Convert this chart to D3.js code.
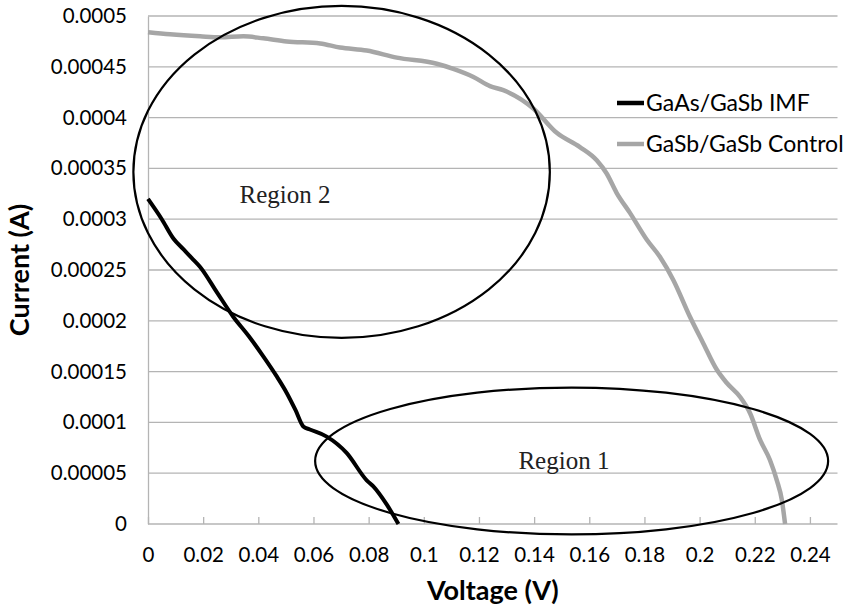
<!doctype html>
<html lang="en">
<head>
  <meta charset="utf-8">
  <title>IV curves</title>
  <script src="https://d3js.org/d3.v7.min.js"></script>
  <style>
  body { margin: 0; background: #fff; }
  .tick-label { font-family: Lato, "Open Sans", sans-serif; font-size: 20.5px; fill: #000; }
  .axis-title { font-family: Lato, "Open Sans", sans-serif; font-size: 27px; font-weight: bold; fill: #000; }
  .legend-text { font-family: Lato, "Open Sans", sans-serif; font-size: 23px; fill: #000; }
  .region-text { font-family: "Liberation Serif", "DejaVu Serif", serif; font-size: 25px; fill: #222; }
  </style>
</head>
<body>
<script>
  // voltage (V) and current (A)
  var imfVoltage = [0, 0.0050, 0.0092, 0.0130, 0.0158, 0.0189, 0.0250, 0.0309, 0.0365, 0.0418, 0.0465, 0.0503, 0.0535, 0.0563, 0.0587, 0.0648, 0.0720, 0.0793, 0.0817, 0.0866, 0.0908];
  var imfCurrent = [0.000320, 0.000300, 0.000281, 0.000270, 0.000262, 0.000253, 0.000228, 0.000204, 0.000185, 0.000165, 0.000146, 0.000129, 0.000112, 0.000096, 0.000093, 0.000086, 0.000070, 0.000043, 0.000037, 0.000019, 0];

  var ctlVoltage = [0, 0.0080, 0.0189, 0.0261, 0.0346, 0.0418, 0.0503, 0.0624, 0.0696, 0.0793, 0.0902, 0.1047, 0.1107, 0.1180, 0.1240, 0.1288, 0.1397, 0.1482, 0.1566, 0.1627, 0.1663, 0.1699, 0.1748, 0.1808, 0.1856, 0.1905, 0.1965, 0.2013, 0.2062, 0.2098, 0.2147, 0.2183, 0.2219, 0.2255, 0.2280, 0.2298, 0.2310];
  var ctlCurrent = [0.000484, 0.000482, 0.000480, 0.000479, 0.000480, 0.000478, 0.000475, 0.000473, 0.000469, 0.000466, 0.000459, 0.000453, 0.000448, 0.000440, 0.000431, 0.000427, 0.000409, 0.000385, 0.000371, 0.000358, 0.000345, 0.000326, 0.000306, 0.000280, 0.000263, 0.000240, 0.000204, 0.000178, 0.000152, 0.000139, 0.000125, 0.000109, 0.000083, 0.000063, 0.000043, 0.000024, 0];

  var seriesNames = ["GaAs/GaSb IMF", "GaSb/GaSb Control"];
  var seriesColors = ["#000000", "#a6a6a6"];

  var xTicks = [0, 0.02, 0.04, 0.06, 0.08, 0.1, 0.12, 0.14, 0.16, 0.18, 0.2, 0.22, 0.24];
  var xTickLabels = ["0", "0.02", "0.04", "0.06", "0.08", "0.1", "0.12", "0.14", "0.16", "0.18", "0.2", "0.22", "0.24"];
  var yTicks = [0, 0.00005, 0.0001, 0.00015, 0.0002, 0.00025, 0.0003, 0.00035, 0.0004, 0.00045, 0.0005];
  var yTickLabels = ["0", "0.00005", "0.0001", "0.00015", "0.0002", "0.00025", "0.0003", "0.00035", "0.0004", "0.00045", "0.0005"];

  // region annotations: centre and radii in data units
  var regionNames = ["Region 2", "Region 1"];
  var regionCx = [0.0702, 0.1536];
  var regionCy = [0.0003465, 0.0000620];
  var regionRx = [0.0755, 0.0930];
  var regionRy = [0.0001634, 0.0000723];
  var regionTextX = [0.0497, 0.1508];
  var regionTextY = [0.000316, 0.0000541];

  var W = 843, H = 612;
  var margin = {top: 16, left: 148};
  var plotW = 689.5, plotH = 508;

  var x = d3.scaleLinear().domain([0, 0.25]).range([margin.left, margin.left + plotW]);
  var y = d3.scaleLinear().domain([0, 0.0005]).range([margin.top + plotH, margin.top]);

  var svg = d3.select("body").append("svg")
      .attr("width", W)
      .attr("height", H);

  // horizontal gridlines
  svg.append("g").selectAll("line")
      .data(yTicks.slice(1))
    .enter().append("line")
      .attr("x1", x(0)).attr("x2", x(0.25))
      .attr("y1", function(d) { return y(d); })
      .attr("y2", function(d) { return y(d); })
      .attr("stroke", "#b4b4b4")
      .attr("stroke-width", 1.3);

  // y axis (labels only, plus the plain vertical line)
  var yAxis = svg.append("g")
      .attr("transform", "translate(" + x(0) + ",0)")
      .call(d3.axisLeft(y).tickValues(yTicks).tickSize(0).tickPadding(21)
        .tickFormat(function(d, i) { return yTickLabels[i]; }));
  yAxis.select(".domain").attr("stroke", "#b4b4b4").attr("stroke-width", 1.3);
  yAxis.selectAll("text").attr("class", "tick-label").attr("fill", null);

  // x axis with inside tick marks
  var xAxis = svg.append("g")
      .attr("transform", "translate(0," + y(0) + ")")
      .call(d3.axisBottom(x).tickValues(xTicks).tickSizeInner(-7).tickSizeOuter(0).tickPadding(38)
        .tickFormat(function(d, i) { return xTickLabels[i]; }));
  xAxis.select(".domain").attr("stroke", "#b4b4b4").attr("stroke-width", 1.3)
      .attr("d", "M" + x(0) + ",0H" + x(0.25));
  xAxis.selectAll(".tick line").attr("stroke", "#b4b4b4").attr("stroke-width", 1.3);
  xAxis.selectAll("text").attr("class", "tick-label").attr("fill", null).attr("dy", "0");

  // curves
  var line = d3.line()
      .x(function(d) { return x(d[0]); })
      .y(function(d) { return y(d[1]); })
      .curve(d3.curveMonotoneX);

  var ctlData = d3.zip(ctlVoltage, ctlCurrent);
  var imfData = d3.zip(imfVoltage, imfCurrent);

  svg.append("path")
      .datum(ctlData)
      .attr("d", line)
      .attr("fill", "none")
      .attr("stroke", seriesColors[1])
      .attr("stroke-width", 4.5)
      .attr("stroke-linejoin", "round");

  svg.append("path")
      .datum(imfData)
      .attr("d", line)
      .attr("fill", "none")
      .attr("stroke", seriesColors[0])
      .attr("stroke-width", 4)
      .attr("stroke-linejoin", "round");

  // region ellipses
  regionNames.forEach(function(name, i) {
    svg.append("ellipse")
        .attr("cx", x(regionCx[i]))
        .attr("cy", y(regionCy[i]))
        .attr("rx", x(regionRx[i]) - x(0))
        .attr("ry", y(0) - y(regionRy[i]))
        .attr("fill", "none")
        .attr("stroke", "#000")
        .attr("stroke-width", 2.2);
    svg.append("text")
        .attr("class", "region-text")
        .attr("x", x(regionTextX[i]))
        .attr("y", y(regionTextY[i]))
        .attr("text-anchor", "middle")
        .text(name);
  });

  // legend
  var legend = svg.append("g").attr("transform", "translate(617,103)");
  seriesNames.forEach(function(name, i) {
    var g = legend.append("g").attr("transform", "translate(0," + (i * 41) + ")");
    g.append("line")
        .attr("x1", 0).attr("x2", 27)
        .attr("stroke", seriesColors[i])
        .attr("stroke-width", 4.5);
    g.append("text")
        .attr("class", "legend-text")
        .attr("x", 29)
        .attr("dy", "0.35em")
        .text(name);
  });

  // axis titles
  svg.append("text")
      .attr("class", "axis-title")
      .attr("x", (x(0) + x(0.25)) / 2)
      .attr("y", 600)
      .attr("text-anchor", "middle")
      .text("Voltage (V)");

  svg.append("text")
      .attr("class", "axis-title")
      .attr("transform", "translate(29," + ((y(0) + y(0.0005)) / 2) + ") rotate(-90)")
      .attr("text-anchor", "middle")
      .text("Current (A)");
</script>
</body>
</html>
